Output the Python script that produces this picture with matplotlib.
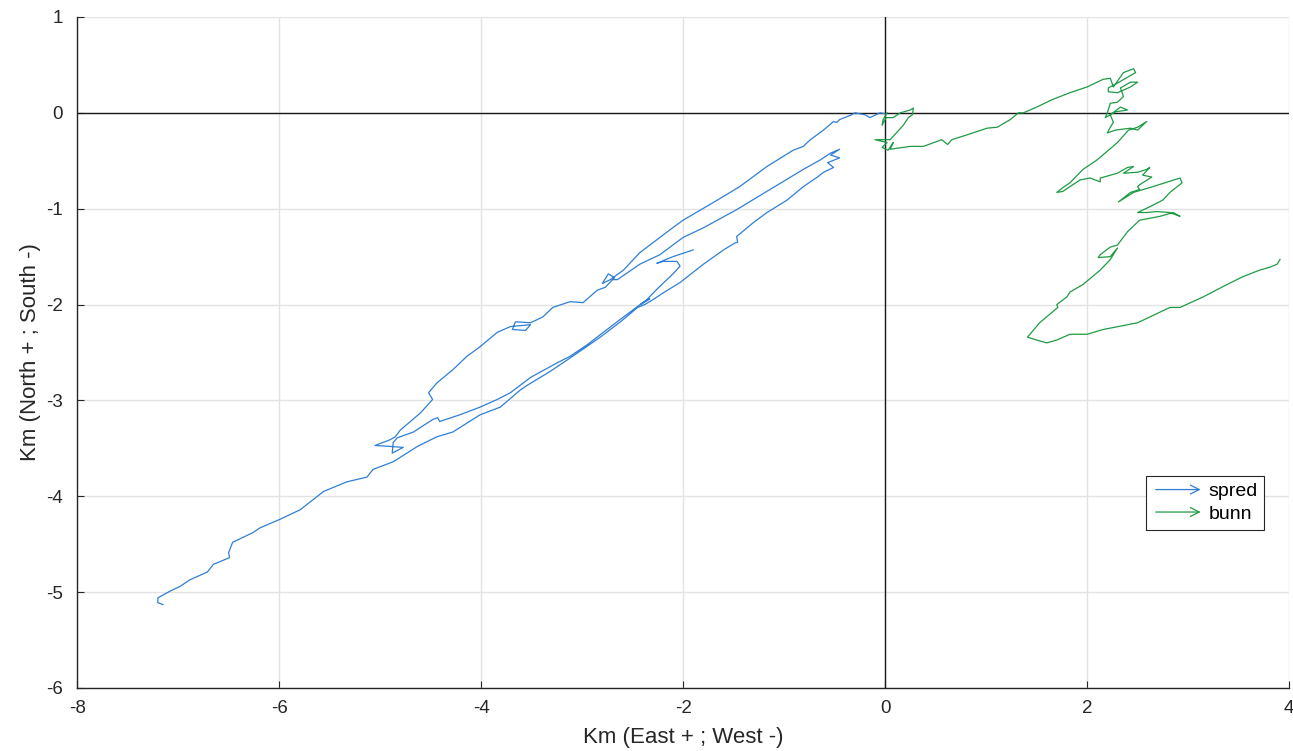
import numpy as np
import matplotlib
matplotlib.use("Agg")
from matplotlib import pyplot as plt
from matplotlib.patches import FancyArrowPatch
from matplotlib.legend_handler import HandlerBase

plt.rcParams['font.family'] = ['Liberation Sans', 'DejaVu Sans']
plt.rcParams['axes.unicode_minus'] = False

# spred track (km); nan = gap between recorded pieces
spred_x = [0.00, -0.05, -0.15, -0.20, -0.30, -0.33, -0.45, -0.48, -0.51, -0.61, -0.74, -0.81, -0.91,
           -1.17, -1.44, -1.66, -2.00, -2.13, -2.43, -2.59, -2.72, -2.80, -2.74, -2.68, -2.77,
           -2.85, -2.99, -3.12, -3.29, -3.39, -3.51, -3.66, -3.69, -3.56, -3.51, -3.71, -3.84,
           -4.01, -4.14, -4.28, -4.44, -4.52, -4.48, -4.60, -4.80, -4.85, -4.90, -5.05, -4.90,
           -4.77, -4.88, -4.87,
           -4.83, -4.67, -4.48, -4.43, -4.41, -4.21, -4.01, -3.84, -3.71, -3.61, -3.51, -3.25,
           -3.12, -2.95, -2.79, -2.59, -2.40, -2.33, -2.42, -2.36,
           -2.25, -2.10, -2.03, -2.06, -2.20, -2.26, -2.10, -1.90,
           np.nan,
           -2.69, -2.65, -2.43, -2.23, -2.00, -1.80, -1.47, -1.14, -0.81, -0.64, -0.54, -0.45,
           -0.54, -0.45, -0.57, -0.51, -0.61,
           -0.67, -0.81, -0.97, -1.17, -1.31, -1.47, -1.46, -1.49, -1.60, -1.80, -2.03, -2.20,
           -2.30, -2.38, -2.45,
           -2.62, -2.82, -2.97, -3.15, -3.32, -3.54, -3.61, -3.81, -4.01, -4.28, -4.44, -4.63,
           -4.87, -5.07, -5.13, -5.33, -5.56, -5.62, -5.79, -5.99, -6.19, -6.26, -6.46, -6.50,
           -6.49, -6.65, -6.71, -6.88, -6.98, -7.08, -7.20, -7.20, -7.15]
spred_y = [-0.01, 0.00, -0.05, -0.02, 0.00, -0.02, -0.07, -0.10, -0.09, -0.18, -0.28, -0.35, -0.39,
           -0.56, -0.77, -0.91, -1.12, -1.22, -1.46, -1.64, -1.74, -1.78, -1.68, -1.72, -1.82,
           -1.85, -1.98, -1.97, -2.03, -2.13, -2.19, -2.18, -2.26, -2.27, -2.21, -2.23, -2.29,
           -2.44, -2.54, -2.68, -2.82, -2.92, -2.99, -3.13, -3.31, -3.38, -3.41, -3.47, -3.48,
           -3.49, -3.55, -3.44,
           -3.39, -3.33, -3.20, -3.18, -3.22, -3.15, -3.07, -2.99, -2.92, -2.84, -2.76, -2.61,
           -2.54, -2.42, -2.29, -2.13, -1.98, -1.94, -2.00, -1.95,
           -1.83, -1.68, -1.60, -1.55, -1.55, -1.57, -1.50, -1.43,
           np.nan,
           -1.74, -1.74, -1.58, -1.48, -1.30, -1.20, -1.01, -0.80, -0.59, -0.49, -0.42, -0.38,
           -0.44, -0.47, -0.52, -0.57, -0.62,
           -0.67, -0.77, -0.91, -1.04, -1.15, -1.29, -1.35, -1.36, -1.43, -1.58, -1.77, -1.88,
           -1.95, -2.00, -2.03,
           -2.18, -2.34, -2.45, -2.58, -2.70, -2.84, -2.89, -3.07, -3.15, -3.33, -3.38, -3.48,
           -3.64, -3.72, -3.80, -3.85, -3.95, -4.00, -4.14, -4.24, -4.33, -4.38, -4.48, -4.59,
           -4.64, -4.71, -4.79, -4.87, -4.94, -4.99, -5.06, -5.11, -5.13]

# bunn track (km)
bunn_x = [0.02, -0.02, -0.03, 0.01, 0.08, 0.15, 0.25, 0.28, 0.27, 0.23, 0.18, 0.12, 0.05, -0.10,
          0.02, -0.03, 0.03, 0.08, 0.05, 0.25, 0.38, 0.56, 0.62, 0.66, 0.81, 1.01, 1.11, 1.24,
          1.32, 1.37, 1.50, 1.66, 1.83, 2.00, 2.16, 2.23, 2.26, 2.36, 2.46, 2.48, 2.30, 2.21,
          2.21, 2.30, 2.43, 2.50, 2.43, 2.33, 2.36, 2.30, 2.23, 2.20, 2.18, 2.28, 2.40, 2.33,
          2.23, 2.26, 2.23, 2.20, 2.28, 2.43, 2.50, 2.59, 2.50, 2.41, 2.30, 2.10, 1.96, 1.83,
          1.76, 1.70, 1.76, 1.83, 1.93, 2.03, 2.13, 2.13, 2.30, 2.40, 2.46, 2.36, 2.50, 2.59,
          2.62, 2.55, 2.64, 2.52, 2.50, 2.52, 2.43, 2.31, 2.46, 2.65, 2.92, 2.94, 2.82, 2.75,
          2.62, 2.52, 2.50, 2.59, 2.69, 2.82, 2.92, 2.85, 2.72, 2.52, 2.50, 2.40, 2.30, 2.23,
          2.13, 2.11, 2.23, 2.30, 2.23, 2.13, 1.96, 1.83, 1.80, 1.70, 1.71, 1.53, 1.41, 1.50,
          1.60, 1.70, 1.83, 2.00, 2.16, 2.50, 2.82, 2.92, 3.15, 3.35, 3.54, 3.71, 3.81, 3.88,
          3.91]
bunn_y = [0.00, -0.07, -0.13, -0.05, -0.05, 0.00, 0.03, 0.05, -0.02, -0.05, -0.13, -0.20, -0.28,
          -0.28, -0.31, -0.36, -0.39, -0.31, -0.38, -0.35, -0.35, -0.28, -0.33, -0.28, -0.23,
          -0.16, -0.15, -0.07, 0.00, 0.00, 0.06, 0.14, 0.21, 0.27, 0.35, 0.36, 0.27, 0.42, 0.46,
          0.42, 0.31, 0.26, 0.22, 0.21, 0.27, 0.32, 0.32, 0.26, 0.17, 0.11, 0.10, 0.00, -0.05,
          0.01, 0.03, 0.06, -0.02, -0.10, -0.15, -0.21, -0.18, -0.16, -0.18, -0.09, -0.15,
          -0.18, -0.31, -0.49, -0.59, -0.73, -0.78, -0.83, -0.82, -0.77, -0.70, -0.68, -0.72,
          -0.68, -0.63, -0.57, -0.56, -0.63, -0.62, -0.59, -0.57, -0.65, -0.67, -0.75, -0.77,
          -0.80, -0.83, -0.93, -0.83, -0.77, -0.68, -0.73, -0.83, -0.91, -0.98, -1.03, -1.04,
          -1.04, -1.03, -1.04, -1.08, -1.04, -1.08, -1.12, -1.14, -1.24, -1.38, -1.40, -1.48,
          -1.51, -1.50, -1.41, -1.53, -1.64, -1.79, -1.87, -1.92, -2.00, -2.03, -2.19, -2.34,
          -2.37, -2.40, -2.37, -2.31, -2.31, -2.26, -2.19, -2.03, -2.03, -1.92, -1.81, -1.71,
          -1.64, -1.61, -1.58, -1.53]

names = ['spred', 'bunn']
colors = ['#2f7fd6', '#1e9b45']


class ArrowHandler(HandlerBase):
    def create_artists(self, legend, orig_handle, xdescent, ydescent, width, height, fontsize, trans):
        y = height / 2 - ydescent
        a = FancyArrowPatch((-xdescent, y), (width - xdescent, y), arrowstyle='->',
                            mutation_scale=16, color=orig_handle.get_color(), lw=0.9)
        a.set_transform(trans)
        return [a]


fig = plt.figure(figsize=(12.93, 7.51), dpi=100)
ax = fig.add_axes([0.0596, 0.0839, 0.9374, 0.8935])

l1, = ax.plot(spred_x, spred_y, color=colors[0], lw=0.9, label=names[0])
l2, = ax.plot(bunn_x, bunn_y, color=colors[1], lw=0.9, label=names[1])

ax.axhline(0, color='#1a1a1a', lw=1.0, zorder=1)
ax.axvline(0, color='#1a1a1a', lw=1.0, zorder=1)

ax.set_xlim(-8, 4)
ax.set_ylim(-6, 1)
ax.set_xticks(np.arange(-8, 5, 2))
ax.set_yticks(np.arange(-6, 2, 1))
ax.grid(True, color='#e3e3e3', lw=1.0)
ax.set_axisbelow(True)

for s in ['top', 'right']:
    ax.spines[s].set_visible(False)
for s in ['left', 'bottom']:
    ax.spines[s].set_color('#262626')
    ax.spines[s].set_linewidth(1.0)
ax.tick_params(direction='in', length=5, width=0.8, colors='#262626', labelsize=13.5)
ax.tick_params(axis='x', pad=9)
ax.tick_params(axis='y', pad=10)

ax.set_xlabel('Km (East + ; West -)', fontsize=16, color='#262626', labelpad=7)
ax.set_ylabel('Km (North + ; South -)', fontsize=16, color='#262626', labelpad=4)

leg = ax.legend(handles=[l1, l2], handler_map={l1: ArrowHandler(), l2: ArrowHandler()},
                loc='upper left', bbox_to_anchor=(0.882, 0.316), fancybox=False,
                edgecolor='#262626', framealpha=1, fontsize=14, handlelength=2.6,
                handletextpad=0.25, borderpad=0.35, labelspacing=0.25, borderaxespad=0)
leg.get_frame().set_linewidth(0.8)

fig.savefig('out.png', dpi=100)
